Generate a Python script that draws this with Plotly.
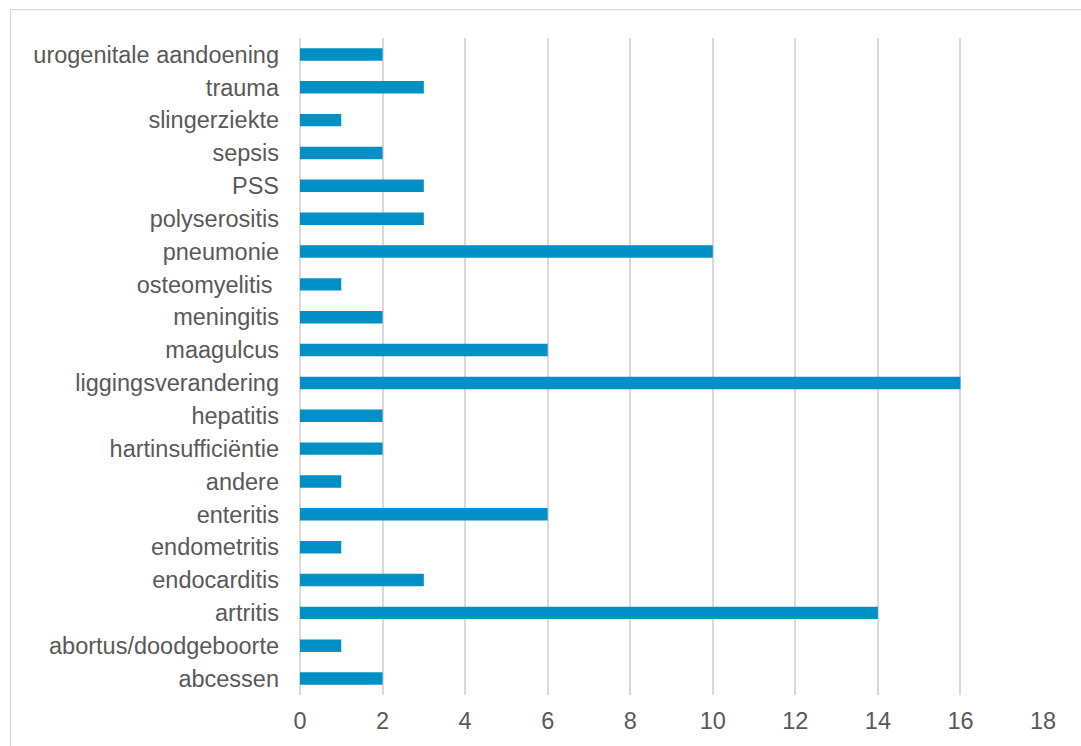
import plotly.graph_objects as go

categories = ["abcessen", "abortus/doodgeboorte", "artritis", "endocarditis", "endometritis",
              "enteritis", "andere", "hartinsufficiëntie", "hepatitis", "liggingsverandering",
              "maagulcus", "meningitis", "osteomyelitis\u00a0", "pneumonie", "polyserositis",
              "PSS", "sepsis", "slingerziekte", "trauma", "urogenitale aandoening"]
values = [2, 1, 14, 3, 1, 6, 1, 2, 2, 16, 6, 2, 1, 10, 3, 3, 2, 1, 3, 2]
x_ticks = [0, 2, 4, 6, 8, 10, 12, 14, 16, 18]

W, H = 1081, 746
L, R, T, B = 300, 38, 38, 49
pw, ph = W - L - R, H - T - B

fig = go.Figure(go.Bar(
    x=values, y=categories, orientation="h",
    marker=dict(color="#0090C6", line=dict(width=0)),
    width=0.38,
))

fig.update_layout(
    width=W, height=H,
    margin=dict(l=L, r=R, t=T, b=B, pad=0),
    paper_bgcolor="white", plot_bgcolor="white",
    font=dict(family="Liberation Sans, Arial, sans-serif", size=23.5, color="#595959"),
    showlegend=False,
    xaxis=dict(range=[0, 18], tickvals=x_ticks, showgrid=True, gridcolor="#D9D9D9",
               gridwidth=1.5, zeroline=True, zerolinecolor="#D9D9D9", zerolinewidth=1.5,
               showline=False, ticks="", ticklabelstandoff=9, fixedrange=True),
    yaxis=dict(categoryorder="array", categoryarray=categories, showgrid=False,
               zeroline=False, showline=False, ticks="", ticklabelstandoff=20,
               range=[-0.5, len(categories) - 0.5]),
    shapes=[dict(type="rect", xref="paper", yref="paper",
                 x0=(10.5 - L) / pw, x1=(W + 20 - L) / pw,
                 y0=-(B + 20) / ph, y1=(H - B - 9.5) / ph,
                 line=dict(color="#D9D9D9", width=1.3), fillcolor="rgba(0,0,0,0)",
                 layer="below")],
)

fig.write_html("out.html")
